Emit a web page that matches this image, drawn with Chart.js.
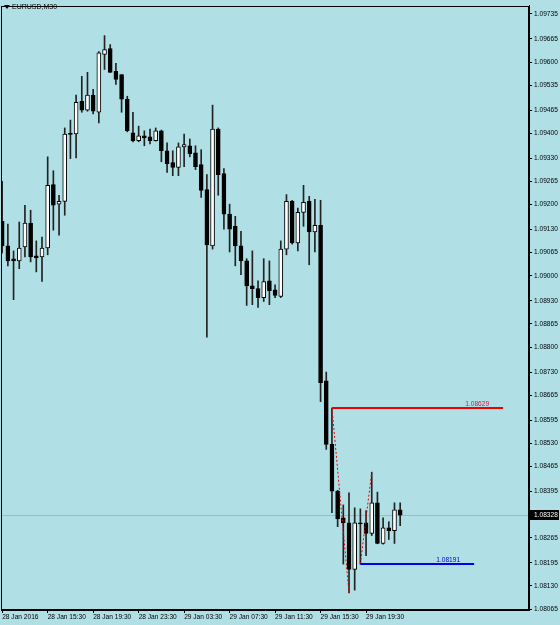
<!DOCTYPE html>
<html lang="en">
<head>
<meta charset="UTF-8">
<title>EURUSD,M30</title>
<script src="https://cdn.jsdelivr.net/npm/chart.js"></script>
<style>
  html, body { margin: 0; padding: 0; background: #b0e0e6; }
  canvas { display: block; }
</style>
</head>
<body>
<canvas id="chart" width="560" height="625"></canvas>
<script>
    // Symbol / timeframe shown top-left
    const symbolTitle = 'EURUSD,M30';

    // M30 bars, 28 Jan 2016 11:30 -> 29 Jan 2016 22:30
    const opens = [1.09153, 1.09084, 1.09048, 1.09042, 1.09081, 1.09148, 1.09056, 1.09053, 1.09078, 1.09256,
        1.09201, 1.09209, 1.09398, 1.09398, 1.09490, 1.09465, 1.09507, 1.09459, 1.09621, 1.09638,
        1.09574, 1.09565, 1.09496, 1.09401, 1.09379, 1.09393, 1.09390, 1.09379, 1.09407, 1.09351,
        1.09318, 1.09304, 1.09362, 1.09365, 1.09345, 1.09312, 1.09242, 1.09084, 1.09412, 1.09287,
        1.09173, 1.09139, 1.09084, 1.09042, 1.08972, 1.08964, 1.08939, 1.08986, 1.08961, 1.08942,
        1.09075, 1.09209, 1.09092, 1.09178, 1.09209, 1.09123, 1.09142, 1.08705, 1.08527, 1.08396,
        1.08321, 1.08307, 1.08176, 1.08307, 1.08307, 1.08277, 1.08363, 1.08249, 1.08293, 1.08285,
        1.08343];
    const highs = [1.09265, 1.09145, 1.09070, 1.09151, 1.09198, 1.09184, 1.09098, 1.09109, 1.09334, 1.09295,
        1.09226, 1.09415, 1.09437, 1.09507, 1.09560, 1.09571, 1.09523, 1.09629, 1.09674, 1.09649,
        1.09596, 1.09565, 1.09504, 1.09459, 1.09420, 1.09407, 1.09412, 1.09415, 1.09409, 1.09373,
        1.09351, 1.09373, 1.09398, 1.09384, 1.09365, 1.09354, 1.09284, 1.09479, 1.09415, 1.09301,
        1.09201, 1.09167, 1.09125, 1.09048, 1.09070, 1.08986, 1.09048, 1.09042, 1.08975, 1.09098,
        1.09228, 1.09212, 1.09190, 1.09254, 1.09223, 1.09215, 1.09212, 1.08730, 1.08629, 1.08398,
        1.08357, 1.08391, 1.08349, 1.08346, 1.08341, 1.08449, 1.08393, 1.08321, 1.08310, 1.08363,
        1.08363];
    const lows = [1.09064, 1.09028, 1.08933, 1.09020, 1.09053, 1.09039, 1.09011, 1.08984, 1.09059, 1.09128,
        1.09114, 1.09170, 1.09329, 1.09331, 1.09459, 1.09462, 1.09454, 1.09429, 1.09579, 1.09571,
        1.09537, 1.09459, 1.09404, 1.09376, 1.09376, 1.09365, 1.09370, 1.09378, 1.09320, 1.09290,
        1.09281, 1.09281, 1.09306, 1.09334, 1.09298, 1.09220, 1.08828, 1.09075, 1.09226, 1.09131,
        1.09067, 1.09028, 1.09003, 1.08917, 1.08919, 1.08911, 1.08928, 1.08919, 1.08939, 1.08939,
        1.09059, 1.09089, 1.09070, 1.09139, 1.09031, 1.09067, 1.08647, 1.08513, 1.08335, 1.08296,
        1.08191, 1.08110, 1.08118, 1.08191, 1.08215, 1.08271, 1.08248, 1.08247, 1.08260, 1.08249,
        1.08299];
    const closes = [1.09084, 1.09042, 1.09042, 1.09078, 1.09148, 1.09053, 1.09050, 1.09078, 1.09254, 1.09198,
        1.09209, 1.09398, 1.09397, 1.09487, 1.09465, 1.09507, 1.09462, 1.09626, 1.09635, 1.09571,
        1.09551, 1.09496, 1.09407, 1.09379, 1.09393, 1.09387, 1.09379, 1.09407, 1.09351, 1.09315,
        1.09304, 1.09362, 1.09368, 1.09343, 1.09306, 1.09240, 1.09087, 1.09412, 1.09284, 1.09173,
        1.09131, 1.09084, 1.09042, 1.08972, 1.08964, 1.08939, 1.08984, 1.08958, 1.08945, 1.09075,
        1.09209, 1.09092, 1.09178, 1.09206, 1.09123, 1.09142, 1.08700, 1.08527, 1.08396, 1.08318,
        1.08307, 1.08176, 1.08307, 1.08304, 1.08277, 1.08363, 1.08249, 1.08293, 1.08285, 1.08343,
        1.08328];

    // time axis labels (bar index -> text)
    const xTickBars = [0, 8, 16, 24, 32, 40, 48, 56, 64];
    const xTickLabels = ['28 Jan 2016', '28 Jan 15:30', '28 Jan 19:30', '28 Jan 23:30', '29 Jan 03:30',
        '29 Jan 07:30', '29 Jan 11:30', '29 Jan 15:30', '29 Jan 19:30'];

    // price scale labels
    const yTickLabels = ['1.09735', '1.09665', '1.09600', '1.09535', '1.09465', '1.09400', '1.09330',
        '1.09265', '1.09200', '1.09130', '1.09065', '1.09000', '1.08930', '1.08865', '1.08800',
        '1.08730', '1.08665', '1.08595', '1.08530', '1.08465', '1.08395', '1.08265', '1.08195',
        '1.08130', '1.08065'];

    const currentPrice = 1.08328;

    // horizontal levels (price, start bar, end bar)
    const redLevelPrice = 1.08629;
    const redLevelBars = [58, 88.1];
    const blueLevelPrice = 1.08191;
    const blueLevelBars = [63, 83];

    // dotted zigzag legs
    const zigzagBarsA = [58, 61];
    const zigzagPricesA = [1.08629, 1.08110];
    const zigzagBarsB = [63, 65];
    const zigzagPricesB = [1.08191, 1.08449];

    const X_MIN = -0.21, X_MAX = 92.66;
    const Y_MIN = 1.080622, Y_MAX = 1.097573;
    const BG = '#b0e0e6';
    const FONT = 'Liberation Sans';

    const idx = opens.map((o, i) => i);
    const wickData = idx.map(i => ({ x: i, y: [lows[i], highs[i]] }));
    const bodyData = idx.map(i => ({ x: i, y: [opens[i], closes[i]] }));
    const bodyFill = idx.map(i => closes[i] > opens[i] ? '#ffffff' : '#000000');

    function levelLine(bars, price) {
        return bars.map(b => ({ x: b, y: price }));
    }
    function legLine(bars, prices) {
        return bars.map((b, i) => ({ x: b, y: prices[i] }));
    }

    // background, frame, price box, titles
    const mtPlugin = {
        id: 'mt',
        beforeDraw(chart) {
            const c = chart.ctx;
            c.save();
            c.fillStyle = BG;
            c.fillRect(0, 0, chart.width, chart.height);
            c.restore();
        },
        beforeDatasetsDraw(chart) {
            const c = chart.ctx, a = chart.chartArea;
            const y = Math.round(chart.scales.y.getPixelForValue(currentPrice)) + 0.5;
            c.save();
            c.strokeStyle = '#a8b8bb';
            c.lineWidth = 1;
            c.beginPath();
            c.moveTo(a.left, y);
            c.lineTo(a.right, y);
            c.stroke();
            c.restore();
        },
        afterDraw(chart) {
            const c = chart.ctx, a = chart.chartArea;
            const xs = chart.scales.x, ys = chart.scales.y;
            c.save();
            // frame
            c.strokeStyle = '#000';
            c.lineWidth = 1;
            c.strokeRect(Math.round(a.left) + 0.5, Math.round(a.top) + 0.5,
                Math.round(a.right - a.left) - 1, Math.round(a.bottom - a.top) - 1);

            // current price box
            const py = ys.getPixelForValue(currentPrice);
            c.fillStyle = '#000';
            c.fillRect(a.right, Math.round(py) - 5, chart.width - a.right - 1, 10);
            c.fillStyle = '#fff';
            c.font = '6.6px "' + FONT + '"';
            c.textBaseline = 'middle';
            c.textAlign = 'left';
            c.fillText(currentPrice.toFixed(5), a.right + 5, py);

            // level labels
            c.textBaseline = 'bottom';
            c.textAlign = 'right';
            c.fillStyle = '#e0103c';
            c.fillText(redLevelPrice.toFixed(5), xs.getPixelForValue(redLevelBars[1]) - 14,
                ys.getPixelForValue(redLevelPrice) - 1);
            c.fillStyle = '#0000d0';
            c.fillText(blueLevelPrice.toFixed(5), xs.getPixelForValue(blueLevelBars[1]) - 14,
                ys.getPixelForValue(blueLevelPrice) - 1);

            // title
            c.fillStyle = '#000';
            c.beginPath();
            c.moveTo(4, 5);
            c.lineTo(10, 5);
            c.lineTo(7, 9);
            c.closePath();
            c.fill();
            c.font = '7px "' + FONT + '"';
            c.textAlign = 'left';
            c.textBaseline = 'middle';
            c.fillText(symbolTitle, 12, 7.5);
            c.restore();
        }
    };

    const ctx = document.getElementById('chart').getContext('2d');
    new Chart(ctx, {
        type: 'bar',
        data: {
            datasets: [
                {
                    type: 'line', data: levelLine(redLevelBars, redLevelPrice),
                    borderColor: '#ee0000', borderWidth: 2, pointRadius: 0, order: -2
                },
                {
                    type: 'line', data: levelLine(blueLevelBars, blueLevelPrice),
                    borderColor: '#0000ee', borderWidth: 2, pointRadius: 0, order: -2
                },
                {
                    type: 'line', data: legLine(zigzagBarsA, zigzagPricesA),
                    borderColor: '#ee0000', borderWidth: 1, borderDash: [2, 2], pointRadius: 0, order: -1
                },
                {
                    type: 'line', data: legLine(zigzagBarsB, zigzagPricesB),
                    borderColor: '#ee0000', borderWidth: 1, borderDash: [2, 2], pointRadius: 0, order: -1
                },
                {
                    data: bodyData, backgroundColor: bodyFill, borderColor: '#000', borderWidth: 1,
                    borderSkipped: false, barThickness: 4, minBarLength: 1, grouped: false, order: 0
                },
                {
                    data: wickData, backgroundColor: '#222', borderWidth: 0,
                    barThickness: 1, minBarLength: 1, grouped: false, order: 1
                }
            ]
        },
        options: {
            responsive: false,
            animation: false,
            devicePixelRatio: 1,
            layout: { padding: { left: 1, top: 1, right: 0, bottom: 0 } },
            plugins: { legend: { display: false }, tooltip: { enabled: false } },
            scales: {
                x: {
                    type: 'linear', min: X_MIN, max: X_MAX, offset: false,
                    grid: { display: true, offset: false, drawOnChartArea: false, drawTicks: true, tickLength: 3, color: '#000' },
                    border: { display: true, color: '#000' },
                    ticks: {
                        autoSkip: false, maxRotation: 0, align: 'start', padding: 0, color: '#000',
                        font: { family: FONT, size: 6.6 },
                        callback: (v) => {
                            const k = xTickBars.indexOf(v);
                            return k >= 0 ? xTickLabels[k] : '';
                        }
                    },
                    afterBuildTicks: (s) => { s.ticks = xTickBars.map(v => ({ value: v })); },
                    afterFit: (s) => { s.height = 15; }
                },
                y: {
                    position: 'right', min: Y_MIN, max: Y_MAX,
                    grid: { display: true, drawOnChartArea: false, drawTicks: true, tickLength: 3, color: '#000' },
                    border: { display: true, color: '#000' },
                    ticks: {
                        autoSkip: false, padding: 2, color: '#000',
                        font: { family: FONT, size: 6.6 },
                        callback: (v) => v.toFixed(5)
                    },
                    afterBuildTicks: (s) => { s.ticks = yTickLabels.map(t => ({ value: parseFloat(t) })); },
                    afterFit: (s) => { s.width = 31; }
                }
            }
        },
        plugins: [mtPlugin]
    });
</script>
</body>
</html>
